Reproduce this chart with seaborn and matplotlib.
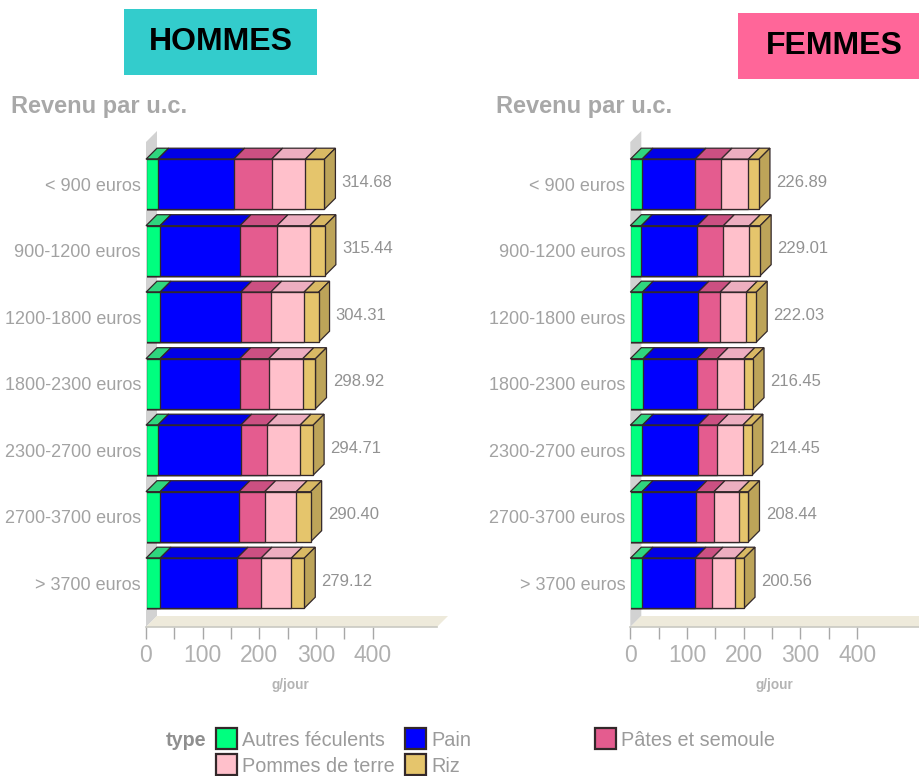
import matplotlib
matplotlib.use("Agg")
import matplotlib.pyplot as plt
import pandas as pd
import seaborn as sns
from matplotlib.patches import Polygon, Rectangle
from matplotlib.transforms import Affine2D

# Income brackets and food types
categories = ["< 900 euros", "900-1200 euros", "1200-1800 euros", "1800-2300 euros",
              "2300-2700 euros", "2700-3700 euros", "> 3700 euros"]
types = ["Autres féculents", "Pain", "Pâtes et semoule", "Pommes de terre", "Riz"]

# Daily intake in g/jour, men
men_autres = [20.6, 24.7, 24.7, 24.7, 20.6, 24.7, 24.7]
men_pain = [134.0, 141.1, 142.3, 140.6, 146.4, 139.3, 135.8]
men_pates = [67.0, 65.2, 52.9, 51.1, 45.9, 45.3, 42.3]
men_pommes = [59.3, 57.6, 58.7, 60.0, 58.7, 55.7, 53.4]
men_riz = [33.78, 26.84, 25.71, 22.52, 23.11, 25.40, 22.92]

# Daily intake in g/jour, women
women_autres = [20.6, 19.4, 21.2, 22.9, 21.2, 20.6, 20.6]
women_pain = [93.5, 98.8, 98.2, 94.7, 98.2, 95.2, 93.5]
women_pates = [45.9, 45.9, 38.8, 35.8, 34.1, 31.7, 30.0]
women_pommes = [48.1, 45.9, 46.4, 46.6, 44.8, 43.6, 41.0]
women_riz = [18.79, 19.01, 17.43, 16.45, 16.15, 17.34, 15.46]

men_series = [men_autres, men_pain, men_pates, men_pommes, men_riz]
women_series = [women_autres, women_pain, women_pates, women_pommes, women_riz]

front_colors = ["#00ff7f", "#0000ff", "#e45c8f", "#ffc0cb", "#e5c56c"]
top_colors = ["#2fd67e", "#0000e6", "#cb5082", "#edaec0", "#d9b964"]
side_color = "#bda459"
edge_color = "#33282a"

FIG_W, FIG_H = 920, 776
PX_PER_UNIT = 0.567       # horizontal pixels per g/jour
ROW_PITCH = 66.5          # vertical pixels per category
FIRST_ROW_Y = 184.2       # pixel centre of the first row
BAR_HEIGHT = 50 / ROW_PITCH
PLOT_W, PLOT_TOP, PLOT_BOTTOM = 291, 142, 627
DEPTH = 11
DX = DEPTH / PX_PER_UNIT
DY = DEPTH / ROW_PITCH

sns.set_theme(style="white")
plt.rcParams["font.family"] = ["Liberation Sans", "DejaVu Sans"]

fig = plt.figure(figsize=(FIG_W / 100, FIG_H / 100), dpi=100, facecolor="white")
pixels = Affine2D().scale(1 / FIG_W, -1 / FIG_H).translate(0, 1) + fig.transFigure


def draw_panel(left_px, series):
    ax = fig.add_axes([left_px / FIG_W, 1 - PLOT_BOTTOM / FIG_H,
                       PLOT_W / FIG_W, (PLOT_BOTTOM - PLOT_TOP) / FIG_H])
    xmax = PLOT_W / PX_PER_UNIT
    ybot = (PLOT_BOTTOM - FIRST_ROW_Y) / ROW_PITCH
    ytop = (PLOT_TOP - FIRST_ROW_Y) / ROW_PITCH

    wide = pd.DataFrame(dict(zip(types, series)), index=categories)
    stacked = wide.cumsum(axis=1)

    # Longest cumulative bar first, shorter ones on top of it
    for name, color in reversed(list(zip(types, front_colors))):
        frame = pd.DataFrame({"revenu": categories, "cumul": stacked[name].values})
        sns.barplot(data=frame, x="cumul", y="revenu", order=categories, orient="h",
                    color=color, saturation=1, width=BAR_HEIGHT,
                    edgecolor=edge_color, linewidth=0.95, ax=ax, zorder=2)

    ax.set_xlim(0, xmax)
    ax.set_ylim(ybot, ytop)

    # The outline is dropped along the baseline so the first segment meets the wall directly
    bar_clip = Rectangle((1.2, ytop - 1), xmax, ybot - ytop + 2, transform=ax.transData)
    for bar in ax.patches:
        bar.set_clip_path(bar_clip)

    # Back wall and floor
    ax.add_patch(Polygon([(0, ybot), (DX, ybot - DY), (DX, ytop - DY), (0, ytop)],
                         facecolor="#d2d2d2", edgecolor="none", clip_on=False, zorder=0))
    ax.add_patch(Polygon([(0, ybot), (xmax, ybot), (xmax + DX, ybot - DY), (DX, ybot - DY)],
                         facecolor="#eeeadb", edgecolor="none", clip_on=False, zorder=0.5))

    # Depth faces of each stacked bar
    for row, cat in enumerate(categories):
        y0 = row - BAR_HEIGHT / 2
        y1 = row + BAR_HEIGHT / 2
        start = 0.0
        for name, color in zip(types, top_colors):
            end = stacked.loc[cat, name]
            ax.add_patch(Polygon([(start, y0), (end, y0), (end + DX, y0 - DY), (start + DX, y0 - DY)],
                                 facecolor=color, edgecolor=edge_color, linewidth=0.9,
                                 clip_on=False, zorder=1.5))
            start = end
        ax.add_patch(Polygon([(start, y0), (start + DX, y0 - DY), (start + DX, y1 - DY), (start, y1)],
                             facecolor=side_color, edgecolor=edge_color, linewidth=0.9,
                             clip_on=False, zorder=1.5))
        ax.text(start + 17.2 / PX_PER_UNIT, row - 0.03, f"{start:.2f}", color="#929292",
                fontsize=12, ha="left", va="center", zorder=3)

    for side in ("top", "right", "left"):
        ax.spines[side].set_visible(False)
    ax.spines["bottom"].set_color("#c9c9c2")
    ax.spines["bottom"].set_linewidth(1.2)

    ticks = list(range(0, 401, 50))
    ax.set_xticks(ticks, [str(t) if t % 100 == 0 else "" for t in ticks])
    ax.tick_params(axis="x", bottom=True, length=8.6, width=1, color="#a8a8a8",
                   labelcolor="#b0b0b0", labelsize=16.5, pad=3.8)
    ax.tick_params(axis="y", left=False, length=0, labelcolor="#a2a2a2", labelsize=13, pad=3.6)
    ax.set_xlabel("g/jour", fontsize=9.8, fontweight="bold", color="#b4b4b4")
    ax.xaxis.set_label_coords(0.495, -0.106)
    ax.set_ylabel("")
    return ax


draw_panel(146, men_series)
draw_panel(630.3, women_series)

# Panel headings
fig.add_artist(Rectangle((124, 9), 193, 66, transform=pixels, facecolor="#33cccc", edgecolor="none"))
fig.add_artist(Rectangle((738, 13), 182, 66, transform=pixels, facecolor="#ff6699", edgecolor="none"))
fig.text(220.5, 41.5, "HOMMES", transform=pixels, fontsize=23, fontweight="bold",
         color="black", ha="center", va="center")
fig.text(834, 45.5, "FEMMES", transform=pixels, fontsize=23, fontweight="bold",
         color="black", ha="center", va="center")
fig.text(11, 107, "Revenu par u.c.", transform=pixels, fontsize=17, fontweight="bold",
         color="#a8a8a8", ha="left", va="center")
fig.text(496, 107, "Revenu par u.c.", transform=pixels, fontsize=17, fontweight="bold",
         color="#a8a8a8", ha="left", va="center")

# Legend
fig.text(166, 740, "type", transform=pixels, fontsize=14.2, fontweight="bold",
         color="#8f8f8f", ha="left", va="center")
legend_slots = [(216, 728), (405, 728), (595, 728), (216, 754), (405, 754)]
for name, color, (lx, ly) in zip(types, front_colors, legend_slots):
    fig.add_artist(Rectangle((lx, ly), 21, 21, transform=pixels, facecolor=color,
                             edgecolor=edge_color, linewidth=1.6))
    fig.text(lx + 26, ly + 12.5, name, transform=pixels, fontsize=14.3, color="#9b9b9b",
             ha="left", va="center")

fig.savefig("out.png", dpi=100, facecolor="white")
